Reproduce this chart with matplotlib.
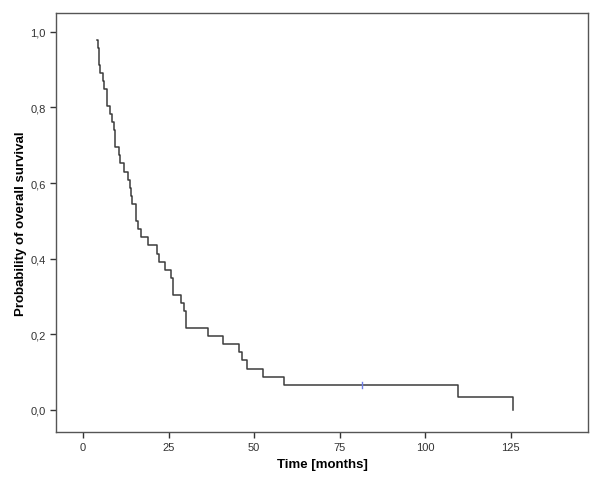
import numpy as np
import matplotlib
matplotlib.use("Agg")
import matplotlib.pyplot as plt

# follow-up times in months, event = 1 death, 0 censored
times = [4.0, 4.3, 4.6, 4.8, 5.0, 5.7, 6.2, 6.9, 6.9, 7.9, 8.4, 9.2, 9.4, 9.4,
         10.6, 10.8, 12.0, 13.1, 13.6, 14.1, 14.2, 15.5, 15.5, 16.2, 17.0,
         19.1, 21.5, 22.2, 24.0, 25.7, 26.4, 26.4, 28.6, 29.5, 30.1, 30.1,
         36.5, 41.0, 45.7, 46.5, 48.0, 52.6, 58.8, 81.6, 109.6, 125.7]
events = [1] * 43 + [0, 1, 1]

x_ticks = [0, 25, 50, 75, 100, 125]
y_ticks = [0.0, 0.2, 0.4, 0.6, 0.8, 1.0]
y_ticklabels = ["0,0", "0,2", "0,4", "0,6", "0,8", "1,0"]


def kaplan_meier(t, e):
    t = np.asarray(t, float)
    e = np.asarray(e, int)
    order = np.argsort(t, kind="stable")
    t, e = t[order], e[order]
    s = 1.0
    st, sv, cens = [], [], []
    for u in np.unique(t):
        at_risk = np.sum(t >= u)
        d = np.sum((t == u) & (e == 1))
        c = np.sum((t == u) & (e == 0))
        if d > 0:
            s *= 1 - d / at_risk
            st.append(u)
            sv.append(s)
        if c > 0:
            cens.append((u, s))
    return np.array(st), np.array(sv), cens


st, sv, cens = kaplan_meier(times, events)

plt.rcParams["font.family"] = ["Liberation Sans", "DejaVu Sans"]
fig = plt.figure(figsize=(6.0, 4.81), dpi=100)
ax = fig.add_axes([0.0933, 0.0998, 0.8867, 0.8712])

# step curve starts at the first event with the value after it
ax.step(st, sv, where="post", color="#3c3c3c", lw=1.1)
for ct, cs in cens:
    ax.plot([ct, ct], [cs - 0.008, cs + 0.008], color="#6f7fe8", lw=1.0)

ax.set_xlim(-7.9, 147.6)
ax.set_ylim(-0.0588, 1.05)
ax.set_xticks(x_ticks)
ax.set_yticks(y_ticks)
ax.set_yticklabels(y_ticklabels)
ax.tick_params(direction="out", length=4, width=1, color="#333333",
               labelsize=8, labelcolor="#333333")
for sp in ax.spines.values():
    sp.set_color("#555555")
    sp.set_linewidth(1.0)

ax.set_xlabel("Time [months]", fontsize=9.5, fontweight="bold", labelpad=4)
ax.set_ylabel("Probability of overall survival", fontsize=9.5,
              fontweight="bold", labelpad=2)

fig.savefig("out.png", dpi=100)
